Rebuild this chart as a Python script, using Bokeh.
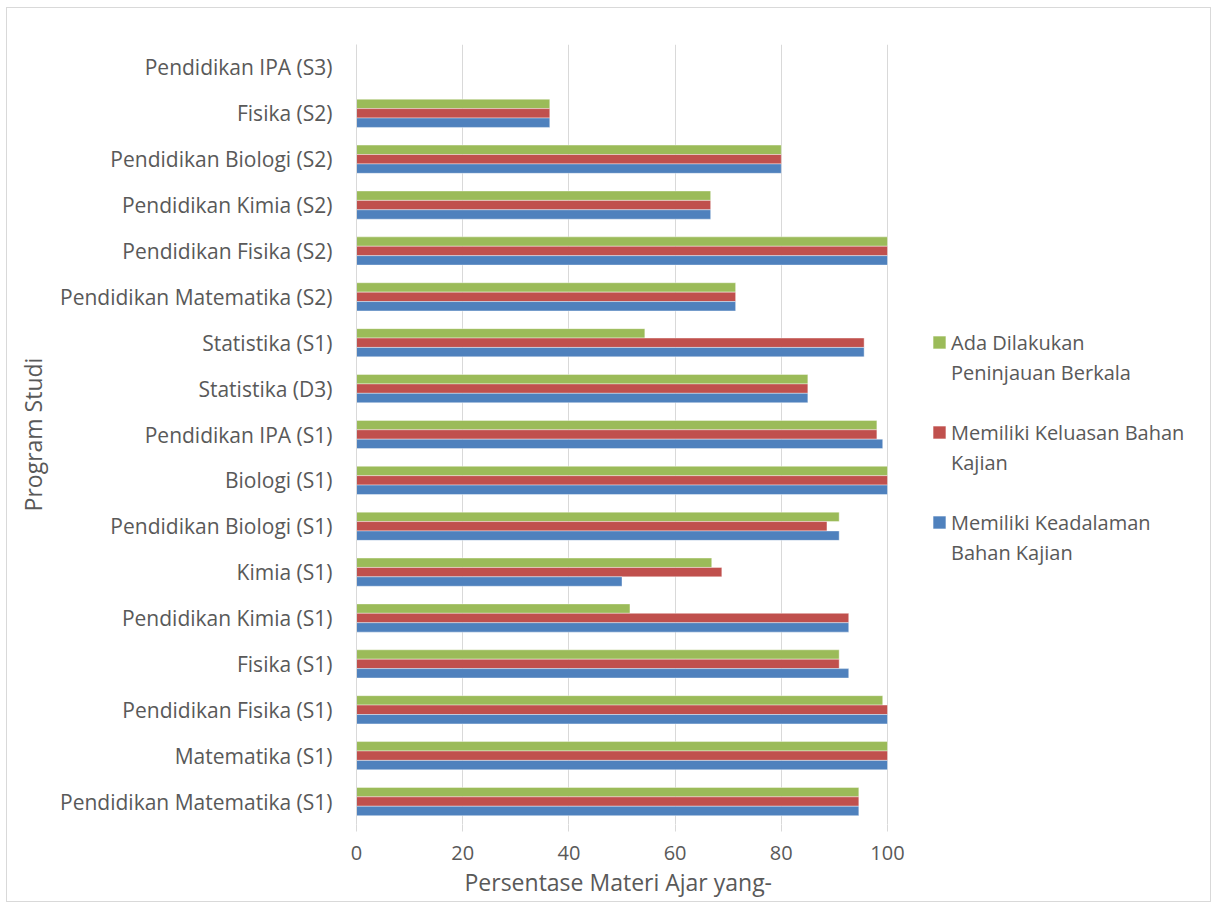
from bokeh.plotting import figure
from bokeh.models import ColumnDataSource, Range1d, FactorRange, Legend, LegendItem, Title
from bokeh.transform import dodge
from bokeh.embed import file_html
from bokeh.resources import INLINE

# Categories, bottom to top (as Excel draws them)
categories = [
    "Pendidikan Matematika (S1)",
    "Matematika (S1)",
    "Pendidikan Fisika (S1)",
    "Fisika (S1)",
    "Pendidikan Kimia (S1)",
    "Kimia (S1)",
    "Pendidikan Biologi (S1)",
    "Biologi (S1)",
    "Pendidikan IPA (S1)",
    "Statistika (D3)",
    "Statistika (S1)",
    "Pendidikan Matematika (S2)",
    "Pendidikan Fisika (S2)",
    "Pendidikan Kimia (S2)",
    "Pendidikan Biologi (S2)",
    "Fisika (S2)",
    "Pendidikan IPA (S3)",
]

keadalaman = [94.6, 100, 100, 92.7, 92.7, 50.0, 90.9, 100, 99.1, 85.0, 95.6, 71.4, 100, 66.7, 80.0, 36.4, 0]
keluasan = [94.6, 100, 100, 90.9, 92.7, 68.8, 88.6, 100, 98.0, 85.0, 95.6, 71.4, 100, 66.7, 80.0, 36.4, 0]
peninjauan = [94.6, 100, 99.1, 90.9, 51.5, 66.9, 90.9, 100, 98.0, 85.0, 54.3, 71.4, 100, 66.7, 80.0, 36.4, 0]

# legend labels, one list of lines per series (top to bottom in the legend)
series_labels = [
    ["Ada Dilakukan", "Peninjauan Berkala"],
    ["Memiliki Keluasan Bahan", "Kajian"],
    ["Memiliki Keadalaman", "Bahan Kajian"],
]
x_ticks = [0, 20, 40, 60, 80, 100]
x_title = "Persentase Materi Ajar yang-"
y_title = "Program Studi"

FONT = "Open Sans"
TXT = "#595959"
GRID = "#d9d9d9"

# layout geometry (pixels)
FIG_W, FIG_H = 1205, 895
LEFT, RIGHT, TOP, BOTTOM = 349, 1, 36, 79
FRAME_W = FIG_W - LEFT - RIGHT
PX_PER_100 = 531.0  # pixel width of 0..100
x_end = 100.0 * FRAME_W / PX_PER_100

source = ColumnDataSource(dict(cat=categories, blue=keadalaman, red=keluasan, green=peninjauan))

p = figure(
    width=FIG_W, height=FIG_H,
    y_range=FactorRange(*categories),
    x_range=Range1d(0, x_end),
    output_backend="svg", toolbar_location=None,
    min_border_left=LEFT, min_border_right=RIGHT,
    min_border_top=TOP, min_border_bottom=BOTTOM,
)
p.styles = {"border": "1px solid #d9d9d9", "box-sizing": "border-box", "margin": "7px 0 0 6px"}

bh = 0.205
common = dict(source=source, left=0, height=bh, line_color="white", line_alpha=0.5, line_width=0.8)
r_green = p.hbar(y=dodge("cat", bh, range=p.y_range), right="green", fill_color="#9BBB59", **common)
r_red = p.hbar(y=dodge("cat", 0, range=p.y_range), right="red", fill_color="#C0504D", **common)
r_blue = p.hbar(y=dodge("cat", -bh, range=p.y_range), right="blue", fill_color="#4F81BD", **common)
# invisible renderer used for the legend's continuation lines (no swatch)
r_none = p.hbar(y=dodge("cat", 0, range=p.y_range), right=0, left=0, height=bh, source=source,
                fill_alpha=0, line_alpha=0)

p.outline_line_color = None
p.ygrid.grid_line_color = None
p.xgrid.grid_line_color = GRID
p.xgrid.grid_line_width = 1
p.xaxis.ticker = x_ticks

p.xaxis.axis_line_color = None
p.xaxis.major_tick_line_color = GRID
p.xaxis.major_tick_out = 7
p.xaxis.major_tick_in = 0
p.xaxis.minor_tick_line_color = None
p.xaxis.major_label_standoff = 14
p.xaxis.major_label_text_font = FONT
p.xaxis.major_label_text_font_size = "20px"
p.xaxis.major_label_text_color = TXT

p.add_layout(Title(text=x_title, align="left", offset=108, standoff=3,
                   text_font=FONT, text_font_size="23px", text_font_style="normal",
                   text_color=TXT), "below")

p.yaxis.axis_line_color = GRID
p.yaxis.major_tick_line_color = None
p.yaxis.minor_tick_line_color = None
p.yaxis.major_label_standoff = 18
p.yaxis.major_label_text_font = FONT
p.yaxis.major_label_text_font_size = "21px"
p.yaxis.major_label_text_color = TXT
p.yaxis.axis_label = y_title
p.yaxis.axis_label_text_font = FONT
p.yaxis.axis_label_text_font_size = "23px"
p.yaxis.axis_label_text_font_style = "normal"
p.yaxis.axis_label_text_color = TXT
p.yaxis.axis_label_standoff = 8

items = []
for i, (rend, lines) in enumerate(zip([r_green, r_red, r_blue], series_labels)):
    items.append(LegendItem(label=lines[0], renderers=[rend]))
    items.append(LegendItem(label=lines[1], renderers=[r_none]))
    if i < 2:
        items.append(LegendItem(label=" ", renderers=[r_none]))

legend = Legend(
    items=items,
    location=(575, 257),
    padding=10, spacing=0,
    glyph_width=16, glyph_height=16, label_standoff=4,
    label_height=30,
    label_text_font=FONT, label_text_font_size="20px", label_text_color=TXT,
    border_line_color=None, background_fill_alpha=0,
)
p.add_layout(legend, "center")

open("out.html", "w").write(file_html(p, INLINE))
